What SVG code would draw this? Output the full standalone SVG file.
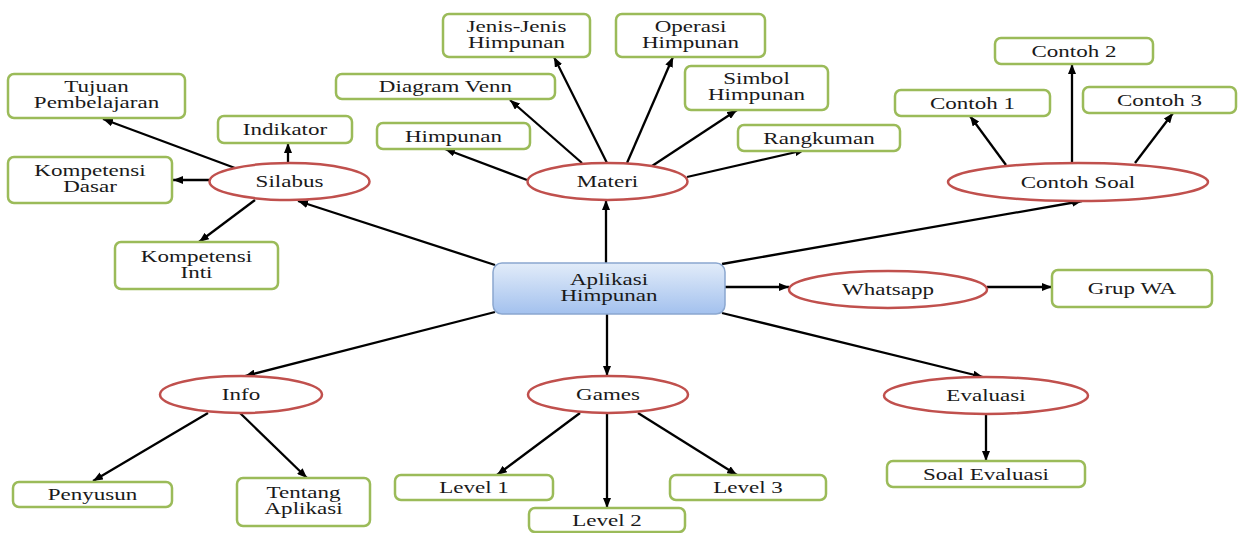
<svg xmlns="http://www.w3.org/2000/svg" width="1241" height="533" viewBox="0 0 1241 533">
<style>
.box{fill:#fff;stroke:#9bbb59;stroke-width:2.5}
.ell{fill:#fff;stroke:#c0504d;stroke-width:2.5}
.t{font-family:"Liberation Serif","Times New Roman",serif;font-size:16px;fill:#1a1a1a;text-anchor:middle}
.c{stroke:#000;stroke-width:2.3;fill:none;marker-end:url(#ah)}
</style>
<defs>
<marker id="ah" markerUnits="userSpaceOnUse" markerWidth="10" markerHeight="8" refX="10" refY="4" orient="auto">
<path d="M0,0 L10,4 L0,8 z" fill="#000"/>
</marker>
<linearGradient id="bg" x1="0" y1="0" x2="0" y2="1">
<stop offset="0" stop-color="#e2ecf9"/>
<stop offset="1" stop-color="#a3c1ee"/>
</linearGradient>
</defs>
<rect width="1241" height="533" fill="#fff"/>
<g id="connectors">
<line class="c" x1="495" y1="265" x2="298" y2="201"/>
<line class="c" x1="606" y1="263" x2="606" y2="200"/>
<line class="c" x1="722" y1="264" x2="1082" y2="201"/>
<line class="c" x1="725" y1="287" x2="789" y2="287"/>
<line class="c" x1="987" y1="287" x2="1052" y2="287"/>
<line class="c" x1="722" y1="313" x2="983" y2="377"/>
<line class="c" x1="607" y1="314" x2="607" y2="376"/>
<line class="c" x1="495" y1="312" x2="245" y2="376"/>
<line class="c" x1="235" y1="168" x2="103" y2="119"/>
<line class="c" x1="288" y1="163" x2="288" y2="143"/>
<line class="c" x1="209" y1="180" x2="173" y2="180"/>
<line class="c" x1="255" y1="200" x2="199" y2="242"/>
<line class="c" x1="527" y1="180" x2="445" y2="149"/>
<line class="c" x1="582" y1="163" x2="510" y2="100"/>
<line class="c" x1="607" y1="163" x2="554" y2="57"/>
<line class="c" x1="627" y1="163" x2="673" y2="57"/>
<line class="c" x1="652" y1="166" x2="737" y2="110"/>
<line class="c" x1="687" y1="177" x2="805" y2="150"/>
<line class="c" x1="1006" y1="165" x2="970" y2="116"/>
<line class="c" x1="1072" y1="163" x2="1072" y2="64"/>
<line class="c" x1="1135" y1="163" x2="1173" y2="113"/>
<line class="c" x1="208" y1="413" x2="93" y2="481"/>
<line class="c" x1="240" y1="413" x2="307" y2="478"/>
<line class="c" x1="580" y1="413" x2="497" y2="475"/>
<line class="c" x1="607" y1="413" x2="607" y2="508"/>
<line class="c" x1="638" y1="413" x2="737" y2="475"/>
<line class="c" x1="986" y1="414" x2="986" y2="461"/>
</g>
<g id="center">
<rect x="493" y="263" width="232" height="51" rx="9" fill="url(#bg)" stroke="#8ba7cf" stroke-width="1.5"/>
<text class="t" transform="translate(609,288.5) scale(1.44,1)"><tspan x="0" y="-4">Aplikasi</tspan><tspan x="0" y="12">Himpunan</tspan></text>
</g>
<g id="silabus"><ellipse class="ell" cx="289.5" cy="181.5" rx="80" ry="18.5"/><text class="t" transform="translate(289.5,187) scale(1.44,1)">Silabus</text></g>
<g id="materi"><ellipse class="ell" cx="607.5" cy="181.5" rx="80" ry="18.5"/><text class="t" transform="translate(607.5,187) scale(1.44,1)">Materi</text></g>
<g id="contohsoal"><ellipse class="ell" cx="1078" cy="182" rx="130" ry="19"/><text class="t" transform="translate(1078,187.5) scale(1.44,1)">Contoh Soal</text></g>
<g id="whatsapp"><ellipse class="ell" cx="888" cy="289.5" rx="99" ry="18.5"/><text class="t" transform="translate(888,295) scale(1.44,1)">Whatsapp</text></g>
<g id="info"><ellipse class="ell" cx="241" cy="394.5" rx="81" ry="18.5"/><text class="t" transform="translate(241,400) scale(1.44,1)">Info</text></g>
<g id="games"><ellipse class="ell" cx="608" cy="394.5" rx="80" ry="18.5"/><text class="t" transform="translate(608,400) scale(1.44,1)">Games</text></g>
<g id="evaluasi"><ellipse class="ell" cx="986" cy="395.5" rx="102" ry="18.5"/><text class="t" transform="translate(986,401) scale(1.44,1)">Evaluasi</text></g>
<g id="tujuan"><rect class="box" x="8" y="74" width="177" height="44" rx="6"/><text class="t" transform="translate(96.5,96) scale(1.44,1)"><tspan x="0" y="-4">Tujuan</tspan><tspan x="0" y="12">Pembelajaran</tspan></text></g>
<g id="indikator"><rect class="box" x="218" y="116" width="134" height="27" rx="6"/><text class="t" transform="translate(285,135) scale(1.44,1)">Indikator</text></g>
<g id="kd"><rect class="box" x="8" y="157" width="164" height="46" rx="6"/><text class="t" transform="translate(90,180) scale(1.44,1)"><tspan x="0" y="-4">Kompetensi</tspan><tspan x="0" y="12">Dasar</tspan></text></g>
<g id="ki"><rect class="box" x="115" y="242" width="163" height="47" rx="6"/><text class="t" transform="translate(196.5,265.5) scale(1.44,1)"><tspan x="0" y="-4">Kompetensi</tspan><tspan x="0" y="12">Inti</tspan></text></g>
<g id="himpunan"><rect class="box" x="377" y="123" width="153" height="26" rx="6"/><text class="t" transform="translate(453.5,141.5) scale(1.44,1)">Himpunan</text></g>
<g id="venn"><rect class="box" x="336" y="74" width="219" height="25" rx="6"/><text class="t" transform="translate(445.5,92) scale(1.44,1)">Diagram Venn</text></g>
<g id="jenis"><rect class="box" x="443" y="14" width="147" height="43" rx="6"/><text class="t" transform="translate(516.5,35.5) scale(1.44,1)"><tspan x="0" y="-4">Jenis-Jenis</tspan><tspan x="0" y="12">Himpunan</tspan></text></g>
<g id="operasi"><rect class="box" x="616" y="14" width="149" height="43" rx="6"/><text class="t" transform="translate(690.5,35.5) scale(1.44,1)"><tspan x="0" y="-4">Operasi</tspan><tspan x="0" y="12">Himpunan</tspan></text></g>
<g id="simbol"><rect class="box" x="685" y="66" width="143" height="44" rx="6"/><text class="t" transform="translate(756.5,88) scale(1.44,1)"><tspan x="0" y="-4">Simbol</tspan><tspan x="0" y="12">Himpunan</tspan></text></g>
<g id="rangkuman"><rect class="box" x="738" y="125" width="162" height="26" rx="6"/><text class="t" transform="translate(819,143.5) scale(1.44,1)">Rangkuman</text></g>
<g id="contoh1"><rect class="box" x="895" y="90" width="155" height="26" rx="6"/><text class="t" transform="translate(972.5,108.5) scale(1.44,1)">Contoh 1</text></g>
<g id="contoh2"><rect class="box" x="995" y="38" width="158" height="26" rx="6"/><text class="t" transform="translate(1074,56.5) scale(1.44,1)">Contoh 2</text></g>
<g id="contoh3"><rect class="box" x="1083" y="87" width="153" height="26" rx="6"/><text class="t" transform="translate(1159.5,105.5) scale(1.44,1)">Contoh 3</text></g>
<g id="grupwa"><rect class="box" x="1052" y="270" width="160" height="37" rx="6"/><text class="t" transform="translate(1132,294) scale(1.44,1)">Grup WA</text></g>
<g id="soalevaluasi"><rect class="box" x="887" y="461" width="198" height="26" rx="6"/><text class="t" transform="translate(986,479.5) scale(1.44,1)">Soal Evaluasi</text></g>
<g id="level3"><rect class="box" x="670" y="475" width="156" height="25" rx="6"/><text class="t" transform="translate(748,493) scale(1.44,1)">Level 3</text></g>
<g id="level2"><rect class="box" x="529" y="508" width="156" height="24" rx="6"/><text class="t" transform="translate(607,525.5) scale(1.44,1)">Level 2</text></g>
<g id="level1"><rect class="box" x="395" y="475" width="158" height="25" rx="6"/><text class="t" transform="translate(474,493) scale(1.44,1)">Level 1</text></g>
<g id="penyusun"><rect class="box" x="13" y="482" width="159" height="25" rx="6"/><text class="t" transform="translate(92.5,500) scale(1.44,1)">Penyusun</text></g>
<g id="tentang"><rect class="box" x="237" y="478" width="133" height="48" rx="6"/><text class="t" transform="translate(303.5,502) scale(1.44,1)"><tspan x="0" y="-4">Tentang</tspan><tspan x="0" y="12">Aplikasi</tspan></text></g>
</svg>
